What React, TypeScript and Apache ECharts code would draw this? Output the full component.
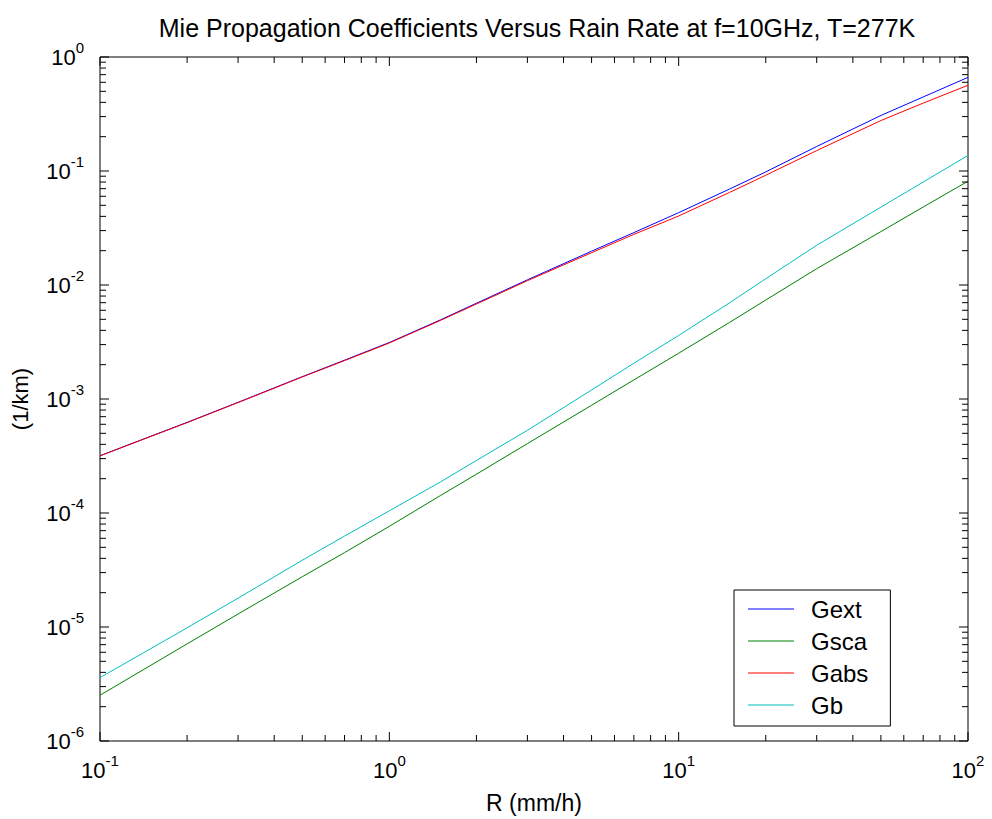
import React, { useEffect, useRef } from "react";
import * as echarts from "echarts";

const R = [0.1, 0.15, 0.2, 0.3, 0.5, 0.7, 1, 1.5, 2, 3, 5, 7, 10, 15, 20, 30, 50, 70, 100];
const Gext = [3.18e-4, 4.72e-4, 6.24e-4, 9.35e-4, 1.57e-3, 2.19e-3, 3.13e-3, 4.94e-3, 6.92e-3, 0.0111, 0.0198, 0.0288, 0.0431, 0.0695, 0.0982, 0.164, 0.307, 0.446, 0.663];
const Gsca = [2.52e-6, 4.62e-6, 7.11e-6, 1.3e-5, 2.76e-5, 4.49e-5, 7.64e-5, 1.42e-4, 2.19e-4, 4.06e-4, 8.81e-4, 1.47e-3, 2.52e-3, 4.7e-3, 7.38e-3, 0.0139, 0.0294, 0.0483, 0.0814];
const Gabs = [3.17e-4, 4.7e-4, 6.2e-4, 9.3e-4, 1.56e-3, 2.17e-3, 3.1e-3, 4.88e-3, 6.81e-3, 0.0109, 0.0192, 0.0278, 0.0403, 0.0649, 0.0918, 0.151, 0.277, 0.394, 0.565];
const Gb = [3.6e-6, 6.47e-6, 9.84e-6, 1.79e-5, 3.85e-5, 6.27e-5, 1.045e-4, 1.87e-4, 2.89e-4, 5.31e-4, 1.2e-3, 2.06e-3, 3.61e-3, 6.98e-3, 0.01135, 0.0223, 0.0482, 0.08, 0.137];

const seriesNames = ["Gext", "Gsca", "Gabs", "Gb"];
const seriesColors = ["#0000ff", "#008000", "#ff0000", "#00bfbf"];

const xDecades = [0.1, 1, 10, 100];
const yDecades = [1e-6, 1e-5, 1e-4, 1e-3, 1e-2, 1e-1, 1];
const minorMultipliers = [2, 3, 4, 5, 6, 7, 8, 9];

const FONT = "'Liberation Sans', Arial, Helvetica, sans-serif";

function buildTicks() {
  const out: number[][] = [];
  xDecades.forEach((d, i) => {
    out.push([d, 1e-6, 0, 1]);
    if (i < xDecades.length - 1) minorMultipliers.forEach((m) => out.push([d * m, 1e-6, 0, 0]));
  });
  yDecades.forEach((d, i) => {
    out.push([0.1, d, 1, 1]);
    if (i < yDecades.length - 1) minorMultipliers.forEach((m) => out.push([0.1, d * m, 1, 0]));
  });
  return out;
}

const expLabel = (v: number) => {
  const e = Math.round(Math.log10(v));
  return `{b|10}{s|${e}}`;
};

const richLabel = {
  b: { fontSize: 22, lineHeight: 34, fontFamily: FONT, color: "#000" },
  s: { fontSize: 15, lineHeight: 10, verticalAlign: "top", fontFamily: FONT, color: "#000" },
};

export default function App() {
  const ref = useRef<HTMLDivElement>(null);
  useEffect(() => {
    if (!ref.current) return;
    const chart = echarts.init(ref.current, undefined, { renderer: "svg" });
    const lineSeries = [Gext, Gsca, Gabs, Gb].map((arr, i) => ({
      name: seriesNames[i],
      type: "line",
      data: R.map((r, j) => [r, arr[j]]),
      symbol: "none",
      showSymbol: false,
      lineStyle: { color: seriesColors[i], width: 1 },
      itemStyle: { color: seriesColors[i] },
      z: 3,
    }));
    chart.setOption({
      animation: false,
      backgroundColor: "#fff",
      title: {
        text: "Mie Propagation Coefficients Versus Rain Rate at f=10GHz, T=277K",
        left: 532,
        textAlign: "center",
        top: 10,
        textStyle: { fontSize: 25, fontWeight: "normal", fontFamily: FONT, color: "#000" },
      },
      grid: {
        left: 100,
        right: 24,
        top: 57,
        bottom: 77,
        show: true,
        borderColor: "#000",
        borderWidth: 1,
        backgroundColor: "transparent",
      },
      legend: {
        data: seriesNames,
        orient: "vertical",
        left: 734,
        top: 590,
        icon: "rect",
        itemWidth: 46,
        itemHeight: 1,
        itemGap: 8,
        padding: [7, 22, 9, 14],
        borderColor: "#000",
        borderWidth: 1,
        backgroundColor: "#fff",
        textStyle: { fontSize: 24, fontFamily: FONT, color: "#000", padding: [0, 0, 0, 12] },
      },
      xAxis: {
        type: "log",
        logBase: 10,
        min: 0.1,
        max: 100,
        name: "R (mm/h)",
        nameLocation: "middle",
        nameGap: 50,
        nameTextStyle: { fontSize: 23, fontFamily: FONT, color: "#000", verticalAlign: "top" },
        axisLine: { show: false },
        axisTick: { show: false },
        splitLine: { show: false },
        minorTick: { show: false },
        axisLabel: { formatter: expLabel, rich: richLabel, margin: 12 },
      },
      yAxis: {
        type: "log",
        logBase: 10,
        min: 1e-6,
        max: 1,
        name: "(1/km)",
        nameLocation: "middle",
        nameGap: 69,
        nameRotate: 90,
        nameTextStyle: { fontSize: 22, fontFamily: FONT, color: "#000" },
        axisLine: { show: false },
        axisTick: { show: false },
        splitLine: { show: false },
        minorTick: { show: false },
        axisLabel: { formatter: expLabel, rich: richLabel, margin: 16 },
      },
      series: [
        ...lineSeries,
        {
          name: "ticks",
          type: "custom",
          clip: false,
          silent: true,
          z: 4,
          data: buildTicks(),
          renderItem: (params: any, api: any) => {
            const cs = params.coordSys;
            const kind = api.value(2);
            const len = api.value(3) ? 9 : 6;
            const style = { stroke: "#000", lineWidth: 1 };
            if (kind === 0) {
              const px = api.coord([api.value(0), 1])[0];
              return {
                type: "group",
                children: [
                  { type: "line", shape: { x1: px, y1: cs.y + cs.height, x2: px, y2: cs.y + cs.height - len }, style },
                  { type: "line", shape: { x1: px, y1: cs.y, x2: px, y2: cs.y + len }, style },
                ],
              };
            }
            const py = api.coord([1, api.value(1)])[1];
            return {
              type: "group",
              children: [
                { type: "line", shape: { x1: cs.x, y1: py, x2: cs.x + len, y2: py }, style },
                { type: "line", shape: { x1: cs.x + cs.width, y1: py, x2: cs.x + cs.width - len, y2: py }, style },
              ],
            };
          },
        },
      ],
    });
    return () => chart.dispose();
  }, []);
  return <div ref={ref} style={{ position: "fixed", left: 0, top: 0, width: 992, height: 819 }} />;
}
